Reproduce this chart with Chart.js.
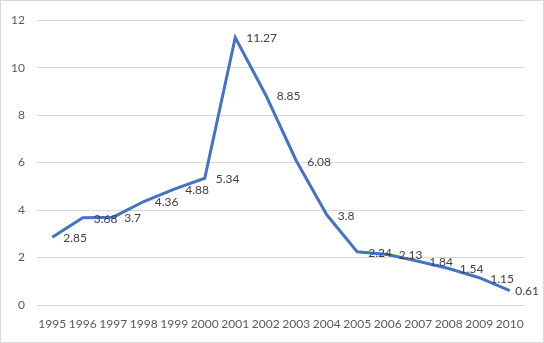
<!DOCTYPE html>
<html>
<head>
<meta charset="utf-8">
<script src="https://cdn.jsdelivr.net/npm/chart.js@4/dist/chart.umd.min.js"></script>
<style>
  html, body { margin: 0; padding: 0; background: #fff; }
  #wrap { width: 542px; height: 341px; border: 1px solid #d9d9d9; position: relative; }
</style>
</head>
<body>
<div id="wrap"><canvas id="chart"></canvas></div>
<script>
const years = ['1995', '1996', '1997', '1998', '1999', '2000', '2001', '2002',
  '2003', '2004', '2005', '2006', '2007', '2008', '2009', '2010'];
const values = [2.85, 3.68, 3.7, 4.36, 4.88, 5.34, 11.27, 8.85,
  6.08, 3.8, 2.24, 2.13, 1.84, 1.54, 1.15, 0.61];
const yTicks = [0, 2, 4, 6, 8, 10, 12];

const lineColor = '#4472C4';
const textColor = '#595959';

// Excel style value labels, to the right of each point
const pointLabels = {
  id: 'pointLabels',
  afterDatasetsDraw(chart) {
    const ctx = chart.ctx;
    const meta = chart.getDatasetMeta(0);
    ctx.save();
    ctx.font = '12px Lato, "Open Sans", sans-serif';
    ctx.fillStyle = '#404040';
    ctx.textAlign = 'left';
    ctx.textBaseline = 'middle';
    meta.data.forEach((pt, i) => {
      let x = pt.x + 11;
      const txt = String(values[i]);
      const w = ctx.measureText(txt).width;
      if (x + w > chart.width - 4) x = chart.width - 4 - w;
      ctx.fillText(txt, x, pt.y + 1);
    });
    ctx.restore();
  }
};

const ctx = document.getElementById('chart').getContext('2d');
new Chart(ctx, {
  type: 'line',
  data: {
    labels: years,
    datasets: [{
      data: values,
      borderColor: lineColor,
      borderWidth: 3,
      pointRadius: 0,
      tension: 0,
      fill: false
    }]
  },
  options: {
    responsive: true,
    maintainAspectRatio: false,
    animation: false,
    layout: {
      padding: { top: 17, right: 18, left: 0, bottom: 0 }
    },
    plugins: {
      legend: { display: false },
      tooltip: { enabled: false }
    },
    scales: {
      x: {
        offset: true,
        grid: { display: false, drawTicks: false },
        border: { display: false },
        ticks: {
          color: textColor,
          font: { family: 'Lato, "Open Sans", sans-serif', size: 12 },
          padding: 12,
          maxRotation: 0,
          autoSkip: false
        },
        afterFit(axis) { axis.height = 37; }
      },
      y: {
        min: 0,
        max: 12,
        afterBuildTicks(axis) { axis.ticks = yTicks.map(v => ({ value: v })); },
        grid: { color: '#d9d9d9', drawTicks: false },
        border: { display: false },
        ticks: {
          color: textColor,
          font: { family: 'Lato, "Open Sans", sans-serif', size: 12 },
          padding: 12
        },
        afterFit(axis) { axis.width = 36; }
      }
    }
  },
  plugins: [pointLabels]
});
</script>
</body>
</html>
